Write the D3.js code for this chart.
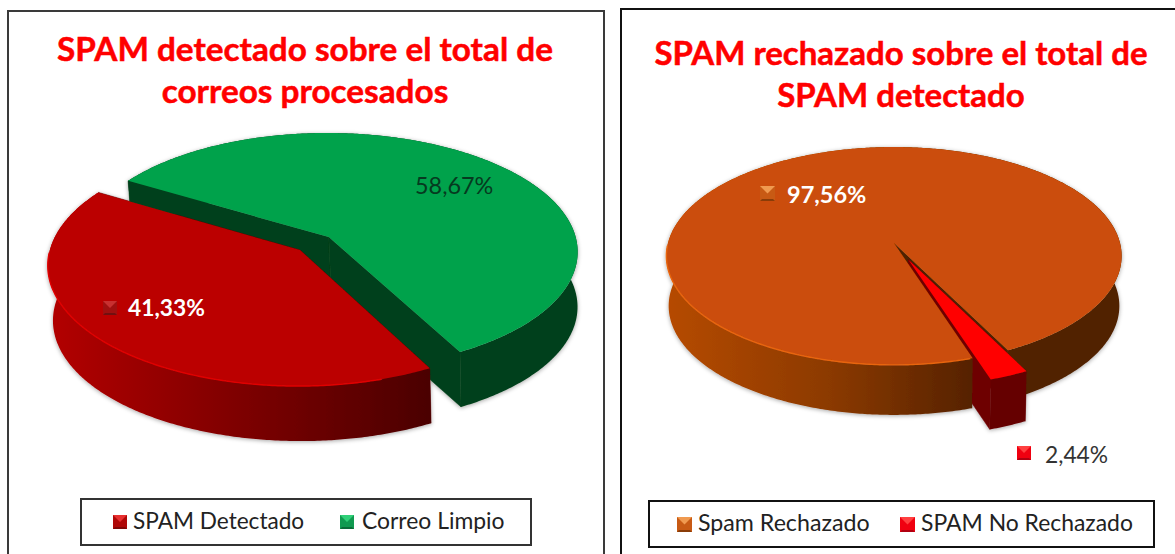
<!DOCTYPE html>
<html><head><meta charset="utf-8">
<script src="https://cdn.jsdelivr.net/npm/d3@7/dist/d3.min.js"></script>
<style>html,body{margin:0;padding:0;background:#fff;overflow:hidden}svg{display:block}text{font-family:Lato,sans-serif}</style>
</head><body><svg id="c" width="1175" height="554"></svg>
<script>
const leftCategories = ["SPAM Detectado", "Correo Limpio"];
const leftValues = [41.33, 58.67];
const leftTitle = ["SPAM detectado sobre el total de", "correos procesados"];
const rightCategories = ["Spam Rechazado", "SPAM No Rechazado"];
const rightValues = [97.56, 2.44];
const rightTitle = ["SPAM rechazado sobre el total de", "SPAM detectado"];

const svg = d3.select("#c");
const defs = svg.append("defs");
const shadow = defs.append("filter").attr("id","sh").attr("x","-5%").attr("y","-5%").attr("width","110%").attr("height","115%");
shadow.append("feDropShadow").attr("dx",0).attr("dy",1).attr("stdDeviation",2).attr("flood-color","#000").attr("flood-opacity",0.35);

function grad(id, x1, x2, stops){
  const g = defs.append("linearGradient").attr("id",id).attr("gradientUnits","userSpaceOnUse")
    .attr("x1",x1).attr("x2",x2).attr("y1",0).attr("y2",0);
  stops.forEach(s=>g.append("stop").attr("offset",s[0]).attr("stop-color",s[1]));
  return `url(#${id})`;
}
const line = d3.line();

function drawPie(cfg){
  const arcs = d3.pie().sort(null).startAngle(cfg.start).endAngle(cfg.start+2*Math.PI)(cfg.values);
  const g = svg.append("g").attr("filter","url(#sh)");
  const project = (u,v,low)=>{
    const w = 1-cfg.k*v, s = low?cfg.shrink:1;
    return [cfg.cx + s*cfg.R*u/w + (low?cfg.dx:0), cfg.cy + cfg.Ry*v/w + (low?cfg.h:0)];
  };
  const slices = arcs.map((a,i)=>{
    const st = cfg.style[i];
    const mid=(a.startAngle+a.endAngle)/2, e=cfg.explode[i];
    const ox=e*Math.sin(mid), oy=-e*Math.cos(mid);
    const n=Math.ceil((a.endAngle-a.startAngle)/0.01);
    const rim=d3.range(n+1).map(j=>{
      const t=a.startAngle+(a.endAngle-a.startAngle)*j/n;
      return [ox+Math.sin(t), oy-Math.cos(t)];
    });
    return {st,ox,oy,n,rim};
  });
  const hi=p=>project(p[0],p[1],false), lo=p=>project(p[0],p[1],true);
  const cuts=s=>{
    const cut=(p,q,fill)=>g.append("path").attr("d",line([hi(p),hi(q),lo(q),lo(p)])+"Z").attr("fill",fill).attr("stroke",fill).attr("stroke-width",0.5);
    cut([s.ox,s.oy],s.rim[0],s.st.cut);
    cut([s.ox,s.oy],s.rim[s.n],s.st.cut);
  };
  const side=s=>g.append("path").attr("d",line([...s.rim.map(hi),...s.rim.slice().reverse().map(lo)])+"Z").attr("fill",s.st.side);
  const top=s=>{
    g.append("path").attr("d",line([[s.ox,s.oy],...s.rim].map(hi))+"Z").attr("fill",s.st.top);
    if(s.st.bevel){
      const bevelLine=d3.line().defined(d=>d.show).x(d=>hi(d.p)[0]).y(d=>hi(d.p)[1]);
      const pts=s.rim.map(p=>({p,show:p[1]-s.oy>0.02 && p[0]-s.ox<0.3}));
      g.append("path").attr("d",bevelLine(pts)).attr("fill","none").attr("stroke",s.st.bevel).attr("stroke-width",1.4);
    }
  };
  cfg.order.forEach(i=>cuts(slices[i]));
  cfg.order.forEach(i=>side(slices[i]));
  cfg.order.forEach(i=>top(slices[i]));
}

function key(x,y,s,c){
  const g=svg.append("g").attr("transform",`translate(${x},${y})`);
  g.append("rect").attr("width",s).attr("height",s).attr("fill",c.base);
  g.append("path").attr("d",line([[0,0],[s,0],[s/2,s/2]])+"Z").attr("fill",c.light);
  g.append("path").attr("d",line([[0,s],[s,s],[s-2,s-2],[2,s-2]])+"Z").attr("fill",c.dark);
}
function txt(x,y,t,o){
  return svg.append("text").attr("x",x).attr("y",y).text(t)
    .attr("font-size",o.size).attr("font-weight",o.weight||400).attr("fill",o.fill).attr("text-anchor",o.anchor||"start")
    .attr("stroke",o.stroke||"none").attr("stroke-width",o.stroke?0.5:0);
}

// panel frames
svg.append("rect").attr("x",8).attr("y",11).attr("width",596).attr("height",560).attr("fill","#fff").attr("stroke","#3a3a3a").attr("stroke-width",2);
svg.append("rect").attr("x",621).attr("y",9).attr("width",570).attr("height",560).attr("fill","#fff").attr("stroke","#111").attr("stroke-width",2);

// titles
const T={size:33,weight:700,fill:"#ff0000",anchor:"middle",stroke:"#ff0000"};
const TL={...T,size:33.3};
txt(305,61,leftTitle[0],TL); txt(305,103,leftTitle[1],TL);
txt(901,65,rightTitle[0],T); txt(901,107,rightTitle[1],T);

const toRad=d=>d*Math.PI/180;
const redSide=grad("gr",60,430,[[0,"#b00000"],[.5,"#7c0000"],[1,"#4b0000"]]);
const orSide=grad("go",670,985,[[0,"#b54a06"],[.5,"#8c3a05"],[1,"#512000"]]);

drawPie({values:leftValues,start:toRad(152),cx:314.5,cy:243.5,R:248.5,Ry:118,k:0.12,h:55,shrink:0.99,dx:2.5,
  explode:[0.08,0.08],order:[1,0],
  style:[{top:"#bb0000",side:redSide,cut:"#5a0000",bevel:"#e00000"},
         {top:"#00a24c",side:"#00401b",cut:"#00401b"}]});
drawPie({values:rightValues,start:toRad(162),cx:894,cy:243,R:226,Ry:107.4,k:0.119,h:50,shrink:0.99,dx:0,
  explode:[0,0.165],order:[0,1],
  style:[{top:"#cb4e07",side:orSide,cut:"#4f2000",bevel:"#e8650f"},
         {top:"#ff0000",side:"#650000",cut:"#6e0000"}]});

// data labels
const kRed={base:"#a01010",light:"#c83030",dark:"#701010"};
const kOr={base:"#c85a14",light:"#f09a50",dark:"#8a3c08"};
const kRed2={base:"#f00010",light:"#ff4040",dark:"#b00010"};
const kGr={base:"#109a50",light:"#30d078",dark:"#0a6c38"};
const pct=v=>d3.format(".2f")(v).replace(".",",")+"%";
key(103,301,14,kRed);
txt(128,316,pct(leftValues[0]),{size:22.8,weight:700,fill:"#fff"});
txt(415,194,pct(leftValues[1]),{size:23.4,fill:"#063a20"});
key(760,186,15,kOr);
txt(787,203,pct(rightValues[0]),{size:23.5,weight:700,fill:"#fff"});
key(1017,446,14,kRed2);
txt(1045,463,pct(rightValues[1]),{size:22.8,fill:"#333"});

// legends
svg.append("rect").attr("x",81).attr("y",499).attr("width",450).attr("height",46).attr("fill","#fff").attr("stroke","#333").attr("stroke-width",2);
key(113,515,14,{base:"#b00808",light:"#e83030",dark:"#800808"});
txt(133,529,leftCategories[0],{size:22.6,fill:"#222"});
key(340,515,14,kGr);
txt(362,529,leftCategories[1],{size:22.9,fill:"#222"});
svg.append("rect").attr("x",649).attr("y",501).attr("width",505).attr("height",46).attr("fill","#fff").attr("stroke","#111").attr("stroke-width",2);
key(677,517,15,kOr);
txt(698,531,rightCategories[0],{size:23.2,fill:"#222"});
key(900,517,15,kRed2);
txt(921,531,rightCategories[1],{size:22.9,fill:"#222"});
</script></body></html>
